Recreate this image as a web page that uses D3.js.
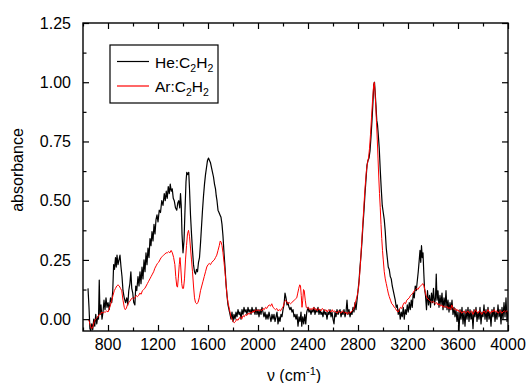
<!DOCTYPE html>
<html><head><meta charset="utf-8">
<script src="https://cdn.jsdelivr.net/npm/d3@7"></script>
<style>
body{margin:0;background:#fff}
#wrap{position:relative;width:526px;height:383px}
svg{display:block;position:absolute;left:0;top:0}
text{font-family:"Liberation Sans",Arial,sans-serif;fill:#000}
.xlab{position:absolute;font-family:"Liberation Sans",Arial,sans-serif;font-size:16px;line-height:18px;color:#000;transform:translateX(-50%);white-space:nowrap}
</style>
</head><body>
<div id="wrap"><svg id="c" width="526" height="383"></svg></div>
<script>
const xTicks = [800,1200,1600,2000,2400,2800,3200,3600,4000];
const yTicks = [0.00,0.25,0.50,0.75,1.00,1.25];
const seriesNames = ["He:C2H2","Ar:C2H2"];
const seriesColors = ["#000000","#ff0000"];

const heSpectrum = [[640,0.13],[648,0.05],[655,-0.04],[662,-0.05],[670,-0.02],[678,-0.045],[686,0.0],[694,-0.03],[702,0.02],[710,-0.02],[718,0.01],[724,0.0],[730,0.165],[736,0.02],[744,0.06],[752,0.0],[760,0.03],[768,0.08],[776,0.04],[784,0.09],[792,0.05],[800,0.07],[810,0.04],[820,0.09],[830,0.07],[838,0.12],[845,0.23],[852,0.21],[860,0.26],[866,0.22],[872,0.27],[880,0.23],[888,0.25],[896,0.27],[904,0.22],[912,0.18],[920,0.12],[930,0.09],[940,0.07],[950,0.09],[958,0.06],[966,0.12],[975,0.15],[983,0.2],[990,0.13],[998,0.11],[1006,0.07],[1015,0.06],[1022,0.14],[1030,0.12],[1040,0.18],[1048,0.14],[1056,0.2],[1064,0.15],[1072,0.22],[1080,0.17],[1088,0.25],[1096,0.2],[1104,0.28],[1112,0.23],[1120,0.3],[1128,0.26],[1136,0.34],[1144,0.31],[1152,0.37],[1160,0.33],[1168,0.4],[1176,0.36],[1184,0.42],[1192,0.44],[1200,0.41],[1210,0.46],[1220,0.45],[1230,0.5],[1240,0.48],[1250,0.53],[1258,0.5],[1266,0.54],[1274,0.51],[1282,0.56],[1290,0.53],[1298,0.57],[1306,0.54],[1314,0.55],[1322,0.51],[1330,0.5],[1340,0.47],[1350,0.46],[1358,0.49],[1366,0.5],[1374,0.47],[1380,0.53],[1386,0.48],[1392,0.36],[1400,0.28],[1408,0.33],[1416,0.46],[1424,0.58],[1430,0.62],[1438,0.61],[1446,0.62],[1452,0.55],[1460,0.44],[1468,0.36],[1476,0.29],[1484,0.23],[1492,0.2],[1500,0.19],[1508,0.21],[1516,0.2],[1524,0.24],[1532,0.26],[1540,0.32],[1548,0.39],[1556,0.46],[1564,0.52],[1572,0.57],[1580,0.61],[1588,0.64],[1596,0.67],[1604,0.68],[1612,0.67],[1620,0.66],[1628,0.64],[1636,0.62],[1644,0.6],[1652,0.57],[1660,0.55],[1666,0.52],[1672,0.5],[1680,0.46],[1688,0.45],[1696,0.44],[1704,0.43],[1712,0.4],[1720,0.35],[1728,0.28],[1736,0.22],[1744,0.15],[1752,0.1],[1760,0.06],[1768,0.04],[1776,0.02],[1784,0.0],[1792,0.03],[1800,-0.01],[1808,0.02],[1816,0.0],[1824,0.03],[1832,0.01],[1840,0.04],[1848,0.02],[1856,0.03],[1864,0.0],[1872,0.04],[1880,0.02],[1888,0.05],[1896,0.03],[1904,0.04],[1912,0.02],[1920,0.05],[1928,0.03],[1936,0.04],[1944,0.02],[1952,0.05],[1960,0.03],[1968,0.04],[1976,0.02],[1984,0.05],[1992,0.02],[2000,0.04],[2008,0.01],[2016,0.04],[2024,0.02],[2032,0.05],[2040,0.03],[2048,0.01],[2056,0.03],[2064,0.0],[2072,0.02],[2080,0.0],[2088,0.03],[2096,0.01],[2104,-0.01],[2112,0.02],[2120,0.0],[2128,0.02],[2136,-0.01],[2144,0.01],[2152,0.03],[2160,-0.02],[2168,0.01],[2176,-0.01],[2184,0.02],[2192,0.01],[2200,0.04],[2208,0.06],[2216,0.11],[2224,0.09],[2232,0.06],[2240,0.07],[2248,0.05],[2256,0.04],[2264,0.05],[2272,0.03],[2280,0.04],[2288,0.01],[2296,0.02],[2304,0.0],[2312,0.02],[2320,-0.03],[2328,0.01],[2336,-0.01],[2344,0.03],[2350,-0.03],[2358,0.01],[2366,-0.02],[2374,0.02],[2382,-0.02],[2390,0.03],[2400,0.05],[2408,0.03],[2416,0.04],[2424,0.02],[2432,0.04],[2440,0.03],[2448,0.05],[2456,0.02],[2464,0.04],[2472,0.03],[2480,0.05],[2488,0.02],[2496,0.04],[2504,0.02],[2512,0.03],[2520,0.01],[2528,0.04],[2536,0.02],[2544,0.03],[2552,0.0],[2560,0.03],[2568,0.02],[2576,0.04],[2584,0.01],[2592,0.03],[2600,0.0],[2608,-0.02],[2616,0.03],[2624,0.01],[2632,0.04],[2640,0.02],[2648,0.03],[2656,0.04],[2664,0.01],[2672,0.03],[2680,0.02],[2688,0.04],[2696,0.01],[2704,0.03],[2712,0.08],[2720,0.02],[2728,0.04],[2736,0.01],[2744,0.03],[2752,0.02],[2760,0.05],[2768,0.03],[2776,0.07],[2784,0.04],[2792,0.08],[2800,0.12],[2808,0.16],[2816,0.22],[2824,0.27],[2832,0.33],[2840,0.4],[2848,0.46],[2856,0.53],[2864,0.59],[2872,0.65],[2880,0.67],[2888,0.68],[2896,0.71],[2904,0.77],[2912,0.84],[2920,0.92],[2926,0.99],[2932,1.0],[2938,0.95],[2944,0.9],[2950,0.84],[2956,0.82],[2962,0.78],[2970,0.72],[2978,0.63],[2986,0.55],[2994,0.48],[3002,0.45],[3010,0.42],[3018,0.37],[3026,0.3],[3034,0.26],[3042,0.22],[3050,0.21],[3058,0.18],[3066,0.17],[3074,0.14],[3082,0.12],[3090,0.1],[3098,0.08],[3106,0.05],[3114,0.06],[3122,0.02],[3130,0.04],[3138,0.0],[3146,0.03],[3154,0.01],[3162,0.05],[3170,0.0],[3178,0.04],[3186,0.02],[3194,0.06],[3202,0.03],[3210,0.07],[3218,0.04],[3226,0.08],[3234,0.05],[3242,0.11],[3250,0.09],[3258,0.14],[3266,0.12],[3274,0.16],[3282,0.2],[3290,0.25],[3296,0.29],[3302,0.24],[3308,0.31],[3314,0.26],[3320,0.28],[3326,0.2],[3332,0.13],[3340,0.1],[3348,0.04],[3356,0.12],[3364,0.06],[3372,0.1],[3380,0.05],[3388,0.11],[3396,0.07],[3404,0.13],[3412,0.06],[3420,0.09],[3426,0.19],[3432,0.08],[3440,0.12],[3448,0.05],[3456,0.1],[3464,0.06],[3472,0.11],[3480,0.04],[3488,0.09],[3496,0.05],[3504,0.12],[3512,0.04],[3520,0.08],[3528,0.03],[3536,0.07],[3544,0.04],[3552,0.08],[3560,0.02],[3568,0.05],[3576,0.01],[3584,0.04],[3592,-0.01],[3600,0.03],[3608,-0.05],[3616,0.04],[3624,0.0],[3632,0.05],[3640,-0.02],[3648,0.03],[3656,-0.03],[3664,0.04],[3672,0.0],[3680,0.05],[3688,-0.01],[3696,0.04],[3704,0.0],[3712,0.03],[3720,-0.04],[3728,0.04],[3736,0.01],[3744,0.05],[3752,-0.01],[3760,0.03],[3768,0.0],[3776,0.05],[3784,-0.02],[3792,0.03],[3800,0.01],[3808,0.06],[3816,0.0],[3824,0.04],[3832,-0.01],[3840,0.05],[3848,0.0],[3856,0.03],[3864,-0.03],[3872,0.04],[3880,0.01],[3888,0.05],[3896,-0.01],[3904,0.03],[3912,0.0],[3920,0.06],[3928,0.01],[3936,0.04],[3944,-0.02],[3952,0.05],[3960,0.0],[3968,0.07],[3976,0.01],[3984,0.09],[3992,-0.01],[4000,0.03]];

const arSpectrum = [[642,0.0],[650,-0.01],[660,-0.03],[670,-0.04],[680,-0.03],[690,-0.01],[700,0.0],[710,0.005],[720,0.01],[730,0.02],[740,0.02],[750,0.03],[760,0.025],[770,0.03],[780,0.03],[790,0.035],[800,0.03],[810,0.045],[820,0.06],[830,0.08],[840,0.1],[850,0.12],[860,0.13],[870,0.14],[880,0.145],[890,0.14],[900,0.13],[910,0.12],[920,0.08],[930,0.05],[938,0.04],[946,0.045],[955,0.06],[965,0.07],[975,0.075],[985,0.085],[995,0.09],[1005,0.085],[1015,0.09],[1025,0.1],[1035,0.095],[1045,0.1],[1055,0.11],[1065,0.105],[1075,0.12],[1085,0.125],[1095,0.13],[1105,0.14],[1115,0.15],[1125,0.16],[1135,0.17],[1145,0.18],[1155,0.19],[1165,0.2],[1175,0.215],[1185,0.225],[1195,0.235],[1205,0.24],[1215,0.25],[1225,0.26],[1235,0.265],[1245,0.27],[1255,0.275],[1265,0.28],[1275,0.28],[1285,0.285],[1295,0.28],[1305,0.29],[1315,0.28],[1325,0.26],[1335,0.23],[1342,0.18],[1350,0.14],[1356,0.135],[1362,0.17],[1370,0.23],[1376,0.26],[1382,0.22],[1390,0.15],[1396,0.13],[1404,0.13],[1412,0.17],[1420,0.25],[1428,0.31],[1436,0.36],[1444,0.375],[1452,0.35],[1460,0.3],[1468,0.25],[1476,0.2],[1484,0.14],[1492,0.09],[1500,0.07],[1510,0.065],[1520,0.07],[1530,0.09],[1540,0.12],[1550,0.14],[1560,0.16],[1570,0.18],[1580,0.2],[1590,0.22],[1600,0.23],[1610,0.235],[1620,0.23],[1630,0.24],[1640,0.245],[1650,0.25],[1660,0.26],[1670,0.27],[1680,0.29],[1690,0.31],[1698,0.33],[1705,0.325],[1712,0.31],[1720,0.28],[1728,0.24],[1736,0.2],[1744,0.15],[1752,0.1],[1760,0.07],[1768,0.05],[1776,0.03],[1784,0.01],[1792,0.0],[1800,-0.01],[1810,-0.015],[1820,-0.01],[1830,0.0],[1840,-0.005],[1850,0.005],[1860,0.01],[1870,0.0],[1880,0.015],[1890,0.01],[1900,0.02],[1910,0.015],[1920,0.025],[1930,0.02],[1940,0.03],[1950,0.025],[1960,0.035],[1970,0.03],[1980,0.04],[1990,0.035],[2000,0.04],[2010,0.035],[2020,0.04],[2030,0.035],[2040,0.045],[2050,0.04],[2060,0.05],[2070,0.045],[2080,0.055],[2090,0.06],[2100,0.055],[2110,0.065],[2120,0.05],[2130,0.045],[2140,0.04],[2150,0.045],[2160,0.035],[2170,0.04],[2180,0.035],[2190,0.045],[2200,0.05],[2210,0.07],[2220,0.08],[2230,0.075],[2240,0.065],[2250,0.07],[2260,0.065],[2270,0.07],[2280,0.075],[2290,0.08],[2300,0.085],[2310,0.09],[2318,0.11],[2326,0.13],[2334,0.145],[2340,0.14],[2346,0.1],[2352,0.05],[2358,0.08],[2364,0.125],[2370,0.12],[2378,0.08],[2386,0.05],[2394,0.045],[2404,0.05],[2414,0.04],[2424,0.045],[2434,0.04],[2444,0.05],[2454,0.04],[2464,0.045],[2474,0.035],[2484,0.045],[2494,0.04],[2504,0.035],[2514,0.045],[2524,0.04],[2534,0.035],[2544,0.04],[2554,0.03],[2564,0.04],[2574,0.035],[2584,0.03],[2594,0.04],[2604,0.03],[2614,0.035],[2624,0.03],[2634,0.025],[2644,0.035],[2654,0.03],[2664,0.025],[2674,0.035],[2684,0.03],[2694,0.025],[2704,0.03],[2714,0.02],[2724,0.03],[2734,0.025],[2744,0.03],[2754,0.035],[2764,0.04],[2774,0.06],[2784,0.08],[2794,0.1],[2804,0.13],[2812,0.18],[2820,0.24],[2828,0.31],[2836,0.38],[2844,0.45],[2852,0.52],[2860,0.58],[2868,0.63],[2876,0.66],[2884,0.68],[2892,0.72],[2900,0.78],[2908,0.85],[2916,0.92],[2924,0.98],[2930,1.0],[2936,0.96],[2942,0.9],[2948,0.83],[2954,0.76],[2960,0.68],[2966,0.6],[2972,0.53],[2978,0.47],[2984,0.4],[2990,0.34],[2996,0.29],[3002,0.25],[3010,0.2],[3018,0.17],[3026,0.15],[3034,0.13],[3042,0.11],[3050,0.095],[3060,0.08],[3070,0.065],[3080,0.06],[3090,0.05],[3100,0.045],[3110,0.035],[3120,0.03],[3130,0.04],[3140,0.05],[3150,0.045],[3160,0.06],[3170,0.07],[3180,0.065],[3190,0.08],[3200,0.085],[3210,0.09],[3220,0.1],[3230,0.105],[3240,0.11],[3250,0.12],[3260,0.125],[3270,0.13],[3280,0.125],[3290,0.135],[3300,0.14],[3310,0.145],[3320,0.15],[3328,0.14],[3336,0.12],[3344,0.1],[3352,0.09],[3360,0.085],[3370,0.08],[3380,0.075],[3390,0.07],[3400,0.075],[3410,0.07],[3420,0.065],[3430,0.07],[3440,0.06],[3450,0.065],[3460,0.055],[3470,0.06],[3480,0.05],[3490,0.055],[3500,0.05],[3510,0.055],[3520,0.045],[3530,0.05],[3540,0.04],[3550,0.06],[3560,0.045],[3570,0.04],[3580,0.045],[3590,0.035],[3600,0.04],[3610,0.03],[3620,0.035],[3630,0.025],[3640,0.03],[3650,0.035],[3660,0.025],[3670,0.03],[3680,0.035],[3690,0.025],[3700,0.03],[3710,0.035],[3720,0.02],[3730,0.03],[3740,0.04],[3750,0.03],[3760,0.025],[3770,0.035],[3780,0.03],[3790,0.02],[3800,0.03],[3810,0.035],[3820,0.025],[3830,0.03],[3840,0.04],[3850,0.03],[3860,0.025],[3870,0.035],[3880,0.03],[3890,0.04],[3900,0.03],[3910,0.035],[3920,0.025],[3930,0.03],[3940,0.035],[3950,0.025],[3960,0.03],[3970,0.035],[3980,0.03],[3990,0.035],[4000,0.03]];

const L = 83, R = 508, T = 23, B = 331;
const svg = d3.select("#c");
const x = d3.scaleLinear().domain([600, 4000]).range([L, R]);
const y = d3.scaleLinear().domain([-0.05, 1.25]).range([B, T]);

svg.append("defs").append("clipPath").attr("id","plotclip").append("rect")
  .attr("x", L).attr("y", T).attr("width", R - L).attr("height", B - T);

const line = d3.line().x(d => x(d[0])).y(d => y(d[1]));
const plot = svg.append("g").attr("clip-path","url(#plotclip)");
plot.append("path").datum(heSpectrum).attr("d", line).attr("fill","none")
  .attr("stroke", seriesColors[0]).attr("stroke-width",1.2).attr("stroke-linejoin","round");
plot.append("path").datum(arSpectrum).attr("d", line).attr("fill","none")
  .attr("stroke", seriesColors[1]).attr("stroke-width",1).attr("stroke-linejoin","round");

const xMinor = d3.range(600, 4001, 200).filter(v => !xTicks.includes(v));
const yMinor = d3.range(0, 1.26, 0.125).filter(v => !yTicks.some(t => Math.abs(t - v) < 1e-6));
function styleAxis(a) {
  a.select(".domain").remove();
  a.selectAll("line").attr("stroke","#000").attr("stroke-width",1.2);
  a.selectAll("text").attr("font-size",16).attr("fill","#000");
}
svg.append("g").attr("transform", `translate(0,${B})`)
  .call(d3.axisBottom(x).tickValues(xTicks).tickSize(-6).tickFormat("")).call(styleAxis);
svg.append("g").attr("transform", `translate(0,${B})`)
  .call(d3.axisBottom(x).tickValues(xMinor).tickSize(-3.5).tickFormat("")).call(styleAxis);
svg.append("g").attr("transform", `translate(0,${T})`)
  .call(d3.axisTop(x).tickValues(xTicks).tickSize(-6).tickFormat("")).call(styleAxis);
svg.append("g").attr("transform", `translate(0,${T})`)
  .call(d3.axisTop(x).tickValues(xMinor).tickSize(-3.5).tickFormat("")).call(styleAxis);
svg.append("g").attr("transform", `translate(${L},0)`)
  .call(d3.axisLeft(y).tickValues(yTicks).tickSize(-6).tickPadding(12).tickFormat(d3.format(".2f"))).call(styleAxis);
svg.append("g").attr("transform", `translate(${L},0)`)
  .call(d3.axisLeft(y).tickValues(yMinor).tickSize(-3.5).tickFormat("")).call(styleAxis);
svg.append("g").attr("transform", `translate(${R},0)`)
  .call(d3.axisRight(y).tickValues(yTicks).tickSize(-6).tickFormat("")).call(styleAxis);
svg.append("g").attr("transform", `translate(${R},0)`)
  .call(d3.axisRight(y).tickValues(yMinor).tickSize(-3.5).tickFormat("")).call(styleAxis);
svg.append("rect").attr("x",L).attr("y",T).attr("width",R-L).attr("height",B-T)
  .attr("fill","none").attr("stroke","#000").attr("stroke-width",1.4);

const xt = svg.append("text").attr("x", 294).attr("y", 381).attr("text-anchor","middle").attr("font-size",16);
xt.append("tspan").text("ν (cm");
xt.append("tspan").attr("font-size",11).attr("dy",-6).text("-1");
xt.append("tspan").attr("dy",6).text(")");
svg.append("text").attr("transform","translate(23,170) rotate(-90)")
  .attr("text-anchor","middle").attr("font-size",16).text("absorbance");

const lg = svg.append("g");
lg.append("rect").attr("x",110).attr("y",45).attr("width",108).attr("height",58)
  .attr("fill","#fff").attr("stroke","#000").attr("stroke-width",1.2);
const labels = [["He:C","2","H","2"],["Ar:C","2","H","2"]];
labels.forEach((parts, i) => {
  const ly = 61.5 + i * 24.5;
  lg.append("line").attr("x1",117).attr("x2",149).attr("y1",ly).attr("y2",ly)
    .attr("stroke", seriesColors[i]).attr("stroke-width",1.2);
  const t = lg.append("text").attr("x",155).attr("y",ly+6).attr("font-size",15.5)
    .attr("aria-label", seriesNames[i]);
  t.append("tspan").text(parts[0]);
  t.append("tspan").attr("font-size",10.5).attr("dy",4).text(parts[1]);
  t.append("tspan").attr("dy",-4).text(parts[2]);
  t.append("tspan").attr("font-size",10.5).attr("dy",4).text(parts[3]);
});

// x tick labels as HTML text placed with the x scale
d3.select("#wrap").selectAll("div.xlab").data(xTicks).join("div")
  .attr("class","xlab")
  .style("left", d => x(d) + "px")
  .style("top", (B + 5) + "px")
  .text(d => String(d));
</script>
</body></html>
